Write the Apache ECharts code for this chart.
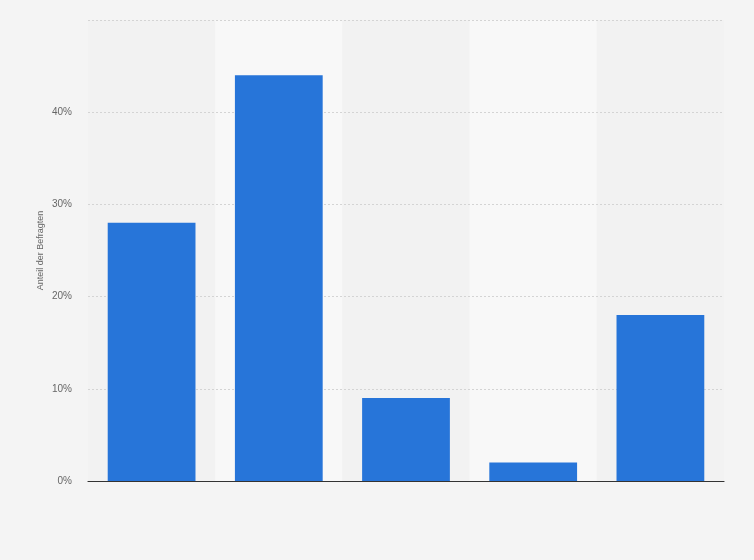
<!DOCTYPE html>
<html><head><meta charset="utf-8">
<script src="https://cdn.jsdelivr.net/npm/echarts@6/dist/echarts.min.js"></script>
<style>html,body{margin:0;padding:0;background:#f4f4f4;}#c{width:754px;height:560px;}</style>
</head><body><div id="c"></div>
<script>
const categories = ['Kategorie 1','Kategorie 2','Kategorie 3','Kategorie 4','Kategorie 5'];
const shares = [28, 44, 9, 2, 18];
const yTicks = [0, 10, 20, 30, 40, 50];

const chart = echarts.init(document.getElementById('c'));
chart.setOption({
  backgroundColor: '#f4f4f4',
  animation: false,
  grid: { left: 88, right: 30, top: 20, bottom: 79 },
  xAxis: [{
    type: 'category',
    data: categories,
    z: 6,
    axisLabel: { show: false },
    axisTick: { show: false },
    axisLine: { show: true, lineStyle: { color: '#333', width: 1.2 } },
    splitArea: { show: false }
  }, {
    type: 'category',
    data: categories,
    position: 'bottom',
    z: 1,
    axisLabel: { show: false },
    axisTick: { show: false },
    axisLine: { show: false },
    splitArea: { show: true, areaStyle: { color: ['#f2f2f2', '#f8f8f8'] } }
  }],
  yAxis: {
    type: 'value',
    z: 3,
    min: yTicks[0], max: yTicks[yTicks.length - 1], interval: 10,
    name: 'Anteil der Befragten',
    nameLocation: 'middle',
    nameMoveOverlap: false,
    nameGap: 43,
    nameTextStyle: { color: '#666', fontSize: 9, fontFamily: 'Arial, Liberation Sans, sans-serif' },
    axisLine: { show: false },
    axisTick: { show: false },
    axisLabel: {
      color: '#666', fontSize: 10, margin: 16,
      fontFamily: 'Arial, Liberation Sans, sans-serif',
      formatter: v => (v === 50 ? '' : v + '%')
    },
    splitLine: { show: true, lineStyle: { color: '#d4d4d4', type: [2, 2], width: 1 } }
  },
  series: [{
    type: 'bar',
    xAxisIndex: 0,
    z: 4,
    data: shares,
    barWidth: '69%',
    itemStyle: { color: '#2775d9' }
  }]
});
</script></body></html>
